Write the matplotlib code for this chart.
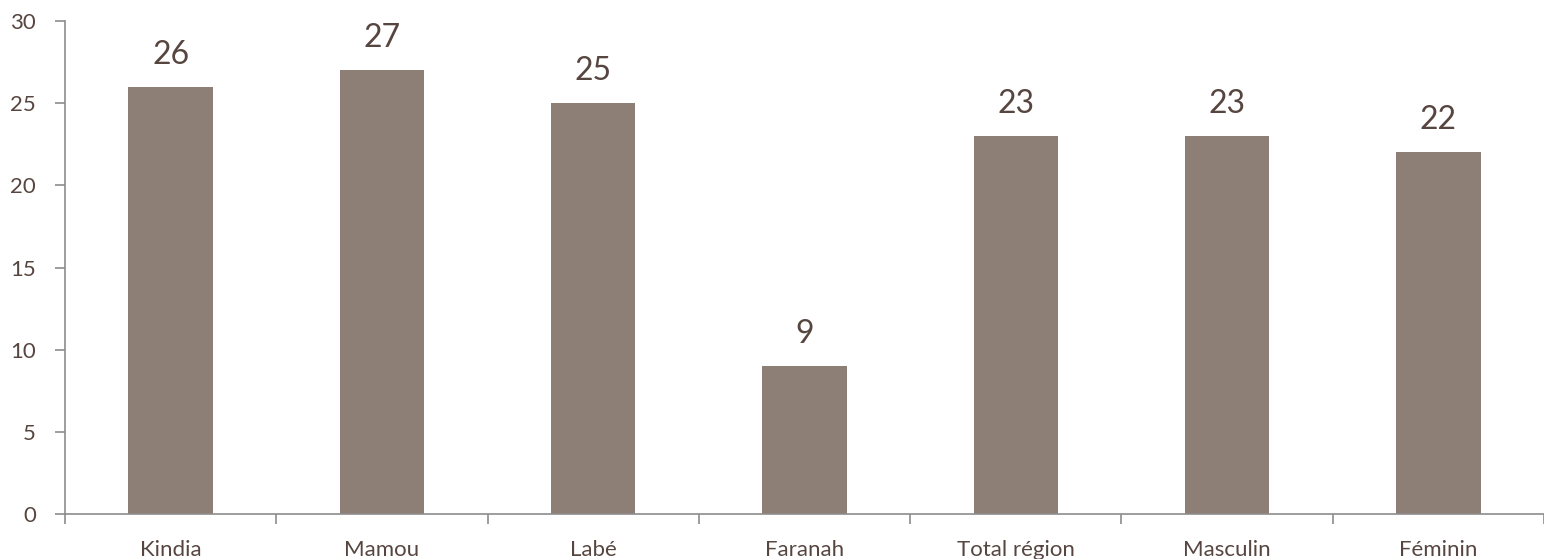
import numpy as np
import matplotlib.pyplot as plt

# Données
categories = ['Kindia', 'Mamou', 'Labé', 'Faranah', 'Total région', 'Masculin', 'Féminin']
valeurs = [26, 27, 25, 9, 23, 23, 22]

couleur_barre = '#8E7F76'
couleur_texte = '#574640'
couleur_axe = '#8C8C8C'

plt.rcParams['font.family'] = ['Lato', 'DejaVu Sans']

fig = plt.figure(figsize=(15.44, 5.59), dpi=100)
ax = fig.add_axes([65 / 1544, 1 - 514 / 559, 1 - 65 / 1544, (514 - 21) / 559])

x = np.arange(len(categories))
barres = ax.bar(x, valeurs, width=0.40, color=couleur_barre, zorder=2)

for xi, v in zip(x, valeurs):
    ax.text(xi, v + 1.95, str(v), ha='center', va='center', fontsize=23, color=couleur_texte)

ax.set_xlim(-0.5, len(categories) - 0.5)
ax.set_ylim(0, 30)
ax.set_yticks(range(0, 31, 5))

# graduations entre les catégories
ax.set_xticks(np.arange(-0.5, len(categories), 1.0))
ax.set_xticklabels([])
ax.set_xticks(x, minor=True)
ax.set_xticklabels(categories, minor=True)
ax.tick_params(axis='x', which='major', length=7, color=couleur_axe, width=1.2)
ax.tick_params(axis='x', which='minor', length=0, pad=19, labelsize=16, labelcolor=couleur_texte)
ax.tick_params(axis='y', length=7, color=couleur_axe, width=1.2, labelsize=16,
               labelcolor=couleur_texte, pad=14)

for s in ['top', 'right']:
    ax.spines[s].set_visible(False)
for s in ['left', 'bottom']:
    ax.spines[s].set_color(couleur_axe)
    ax.spines[s].set_linewidth(1.2)

fig.savefig('out.png', dpi=100)
